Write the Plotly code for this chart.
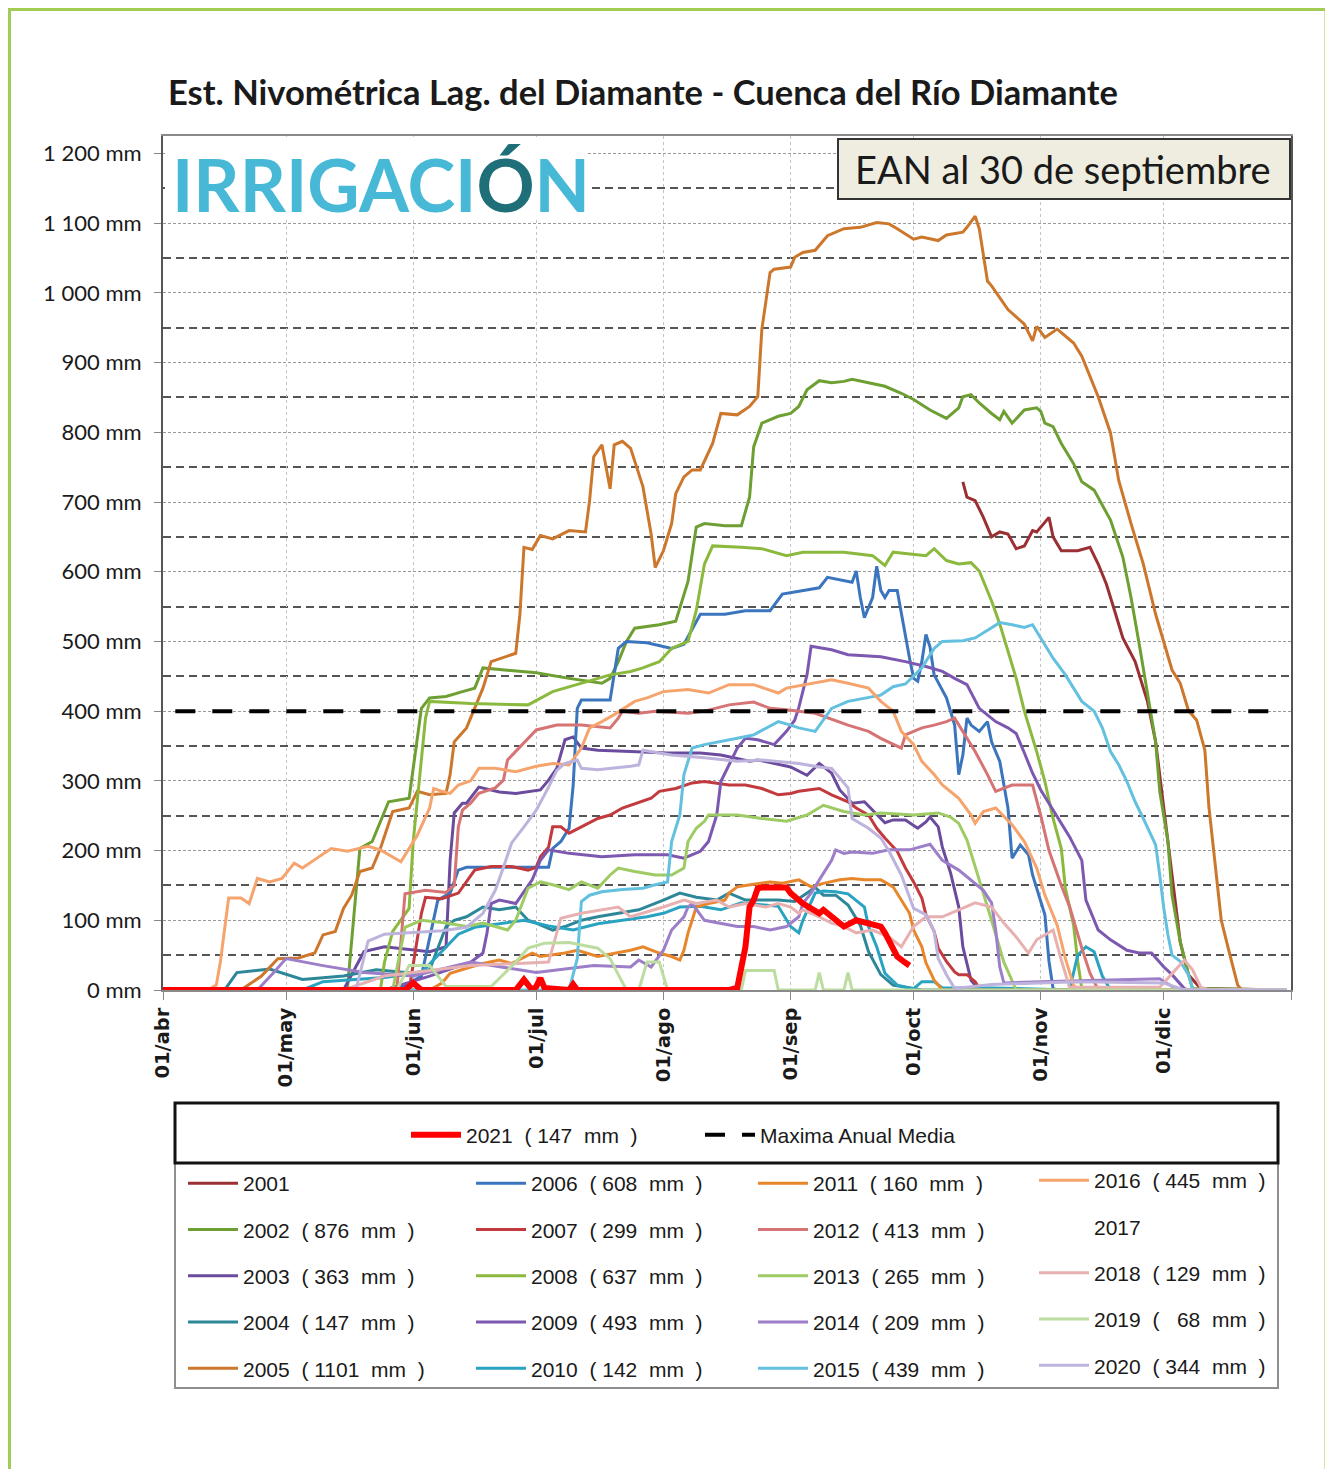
import plotly.graph_objects as go

# the page adds an 8px body margin, so the figure is drawn 8px smaller and offset
OFF = 8
W, H = 1333 - OFF, 1469 - OFF
ML, MR, MT, MB = 163 - OFF, 1333 - 1291, 136 - OFF, 1469 - 990


def px2x(px):
    return (px - 163) / (1291 - 163)


def py2y(py):
    return (990 - py) / (990 - 136)


# season dates (MM-DD) and snow water equivalent (mm), one list per year
s2001 = [("10-13", 729), ("10-14", 707), ("10-16", 702), ("10-18", 678), ("10-20", 650), ("10-22", 657),
         ("10-24", 654), ("10-26", 633), ("10-28", 637), ("10-30", 659), ("10-31", 657), ("11-03", 678),
         ("11-04", 650), ("11-06", 630), ("11-10", 630), ("11-13", 635), ("11-15", 611), ("11-17", 582),
         ("11-19", 544), ("11-21", 505), ("11-24", 471), ("11-25", 452), ("11-27", 414), ("11-29", 356),
         ("12-01", 261), ("12-03", 165), ("12-05", 69), ("12-07", 22), ("12-10", 2), ("12-31", 0)]
s2002 = [("04-01", 0), ("05-15", 0), ("05-16", 5), ("05-19", 203), ("05-22", 213), ("05-26", 270),
         ("05-31", 275), ("06-01", 318), ("06-03", 404), ("06-05", 419), ("06-09", 421), ("06-13", 428),
         ("06-16", 433), ("06-18", 462), ("07-01", 455), ("07-09", 447), ("07-17", 440), ("07-19", 447),
         ("07-21", 471), ("07-23", 500), ("07-25", 519), ("07-31", 524), ("08-04", 529), ("08-07", 586),
         ("08-09", 664), ("08-11", 669), ("08-16", 666), ("08-20", 666), ("08-22", 707), ("08-23", 779),
         ("08-25", 813), ("08-29", 823), ("09-01", 827), ("09-03", 837), ("09-05", 861), ("09-08", 874),
         ("09-11", 871), ("09-14", 873), ("09-16", 876), ("09-20", 871), ("09-24", 866), ("09-28", 856),
         ("10-01", 847), ("10-05", 832), ("10-09", 820), ("10-12", 835), ("10-13", 851), ("10-15", 854),
         ("10-17", 842), ("10-20", 827), ("10-22", 818), ("10-23", 830), ("10-25", 813), ("10-28", 832),
         ("10-31", 835), ("11-01", 830), ("11-02", 813), ("11-04", 808), ("11-06", 784), ("11-09", 755),
         ("11-11", 729), ("11-14", 717), ("11-18", 674), ("11-21", 621), ("11-23", 563), ("11-25", 496),
         ("11-27", 428), ("11-29", 356), ("11-30", 285), ("12-02", 213), ("12-03", 136), ("12-05", 69),
         ("12-07", 22), ("12-08", 2), ("12-31", 0)]
s2003 = [("04-01", 0), ("05-15", 0), ("05-20", 55), ("05-25", 62), ("06-05", 55), ("06-09", 62),
         ("06-10", 186), ("06-11", 254), ("06-13", 268), ("06-14", 268), ("06-17", 291), ("06-22", 284),
         ("06-26", 282), ("07-02", 287), ("07-04", 301), ("07-06", 318), ("07-08", 359), ("07-10", 363),
         ("07-12", 347), ("07-16", 344), ("07-24", 342), ("08-02", 340), ("08-10", 340), ("08-15", 337),
         ("08-22", 328), ("08-24", 330), ("09-01", 320), ("09-05", 308), ("09-08", 325), ("09-11", 311),
         ("09-13", 287), ("09-16", 268), ("09-19", 270), ("09-21", 258), ("09-24", 240), ("09-26", 244),
         ("09-29", 244), ("10-02", 232), ("10-04", 241), ("10-05", 248), ("10-07", 234), ("10-08", 205),
         ("10-10", 168), ("10-12", 119), ("10-13", 62), ("10-15", 14), ("10-17", 0), ("12-31", 0)]
s2004 = [("04-01", 0), ("04-16", 0), ("04-19", 25), ("04-27", 30), ("05-05", 15), ("05-15", 20),
         ("05-23", 29), ("06-01", 24), ("06-05", 29), ("06-09", 91), ("06-11", 100), ("06-14", 105),
         ("06-18", 119), ("06-22", 115), ("06-26", 119), ("06-29", 100), ("07-01", 96), ("07-05", 86),
         ("07-08", 91), ("07-12", 100), ("07-16", 105), ("07-21", 110), ("07-26", 115), ("08-01", 129),
         ("08-05", 139), ("08-09", 133), ("08-14", 129), ("08-17", 139), ("08-21", 129), ("08-25", 129),
         ("08-29", 129), ("09-02", 127), ("09-07", 147), ("09-09", 136), ("09-12", 136), ("09-15", 122),
         ("09-18", 93), ("09-20", 55), ("09-23", 22), ("09-26", 7), ("10-01", 2), ("10-03", 0), ("12-31", 0)]
s2005 = [("04-01", 0), ("04-20", 0), ("04-25", 20), ("04-29", 45), ("05-04", 46), ("05-08", 53),
         ("05-10", 79), ("05-13", 84), ("05-15", 117), ("05-17", 136), ("05-19", 170), ("05-22", 175),
         ("05-24", 203), ("05-27", 256), ("05-31", 261), ("06-02", 285), ("06-05", 280), ("06-09", 282),
         ("06-10", 309), ("06-11", 356), ("06-14", 376), ("06-16", 404), ("06-18", 433), ("06-20", 471),
         ("06-26", 483), ("06-27", 538), ("06-28", 635), ("06-30", 632), ("07-02", 652), ("07-05", 647),
         ("07-09", 659), ("07-13", 657), ("07-14", 702), ("07-15", 765), ("07-17", 782), ("07-19", 719),
         ("07-20", 782), ("07-22", 787), ("07-24", 777), ("07-27", 722), ("07-29", 654), ("07-30", 606),
         ("08-01", 630), ("08-03", 669), ("08-04", 712), ("08-06", 736), ("08-08", 746), ("08-10", 746),
         ("08-13", 784), ("08-15", 827), ("08-19", 825), ("08-22", 837), ("08-24", 851), ("08-25", 948),
         ("08-27", 1029), ("08-28", 1034), ("09-01", 1037), ("09-02", 1051), ("09-04", 1058), ("09-07", 1061),
         ("09-10", 1082), ("09-14", 1092), ("09-18", 1094), ("09-22", 1101), ("09-25", 1099), ("09-27", 1092),
         ("10-01", 1077), ("10-03", 1080), ("10-07", 1075), ("10-09", 1083), ("10-13", 1087), ("10-14", 1094),
         ("10-16", 1110), ("10-17", 1092), ("10-19", 1017), ("10-20", 1010), ("10-22", 993), ("10-24", 976),
         ("10-28", 955), ("10-30", 931), ("10-31", 952), ("11-02", 936), ("11-05", 948), ("11-09", 928),
         ("11-11", 909), ("11-15", 851), ("11-18", 799), ("11-20", 731), ("11-23", 669), ("11-26", 611),
         ("11-29", 539), ("12-01", 500), ("12-03", 459), ("12-05", 440), ("12-07", 401), ("12-09", 387),
         ("12-11", 344), ("12-12", 262), ("12-14", 158), ("12-15", 100), ("12-17", 53), ("12-19", 7),
         ("12-20", 0), ("12-31", 0)]
s2006 = [("04-01", 0), ("05-28", 0), ("06-03", 20), ("06-06", 100), ("06-07", 129), ("06-10", 139),
         ("06-12", 172), ("06-14", 176), ("07-04", 176), ("07-05", 203), ("07-07", 213), ("07-09", 232),
         ("07-10", 294), ("07-11", 404), ("07-12", 416), ("07-19", 416), ("07-20", 452), ("07-21", 490),
         ("07-23", 500), ("07-28", 498), ("08-03", 490), ("08-06", 496), ("08-10", 539), ("08-16", 539),
         ("08-21", 544), ("08-27", 544), ("08-30", 568), ("09-04", 573), ("09-08", 577), ("09-10", 592),
         ("09-16", 585), ("09-17", 601), ("09-18", 563), ("09-19", 534), ("09-21", 563), ("09-22", 608),
         ("09-23", 573), ("09-24", 563), ("09-25", 573), ("09-27", 573), ("09-28", 539), ("09-29", 505),
         ("09-30", 476), ("10-01", 447), ("10-02", 443), ("10-03", 471), ("10-04", 510), ("10-05", 492),
         ("10-06", 452), ("10-09", 419), ("10-11", 380), ("10-12", 309), ("10-13", 337), ("10-14", 390),
         ("10-15", 380), ("10-17", 371), ("10-19", 385), ("10-20", 356), ("10-22", 328), ("10-24", 261),
         ("10-25", 189), ("10-27", 208), ("10-29", 194), ("10-30", 165), ("11-02", 108), ("11-03", 41),
         ("11-04", 2), ("11-05", 0), ("12-31", 0)]
s2007 = [("04-01", 0), ("05-31", 0), ("06-03", 110), ("06-04", 133), ("06-08", 131), ("06-12", 139),
         ("06-16", 172), ("06-20", 177), ("06-25", 177), ("06-29", 172), ("07-01", 176), ("07-02", 191),
         ("07-04", 205), ("07-05", 234), ("07-07", 234), ("07-09", 225), ("07-12", 234), ("07-16", 246),
         ("07-19", 251), ("07-22", 261), ("07-29", 275), ("07-31", 285), ("08-04", 289), ("08-08", 297),
         ("08-11", 299), ("08-17", 294), ("08-21", 294), ("08-25", 289), ("08-29", 280), ("09-01", 282),
         ("09-03", 285), ("09-08", 289), ("09-11", 280), ("09-15", 270), ("09-17", 261), ("09-20", 251),
         ("09-22", 232), ("09-24", 218), ("09-27", 199), ("09-29", 175), ("10-01", 155), ("10-03", 132),
         ("10-04", 108), ("10-06", 84), ("10-07", 60), ("10-09", 41), ("10-11", 26), ("10-12", 22),
         ("10-14", 22), ("10-16", 12), ("10-17", 2), ("10-18", 0), ("12-31", 0)]
s2008 = [("04-01", 0), ("05-24", 0), ("05-25", 40), ("05-27", 84), ("05-31", 117), ("06-01", 213),
         ("06-04", 390), ("06-05", 414), ("06-15", 411), ("06-29", 409), ("07-05", 428), ("07-12", 440),
         ("07-19", 452), ("07-24", 457), ("07-27", 462), ("07-31", 471), ("08-03", 490), ("08-07", 500),
         ("08-09", 544), ("08-11", 611), ("08-13", 637), ("08-20", 635), ("08-25", 633), ("08-31", 623),
         ("09-04", 628), ("09-14", 628), ("09-21", 623), ("09-24", 609), ("09-26", 628), ("09-29", 626),
         ("10-04", 623), ("10-06", 633), ("10-09", 616), ("10-12", 611), ("10-15", 613), ("10-17", 601),
         ("10-20", 558), ("10-22", 525), ("10-24", 486), ("10-26", 447), ("10-28", 400), ("10-31", 342),
         ("11-02", 299), ("11-04", 246), ("11-06", 203), ("11-07", 146), ("11-09", 93), ("11-10", 41),
         ("11-11", 2), ("11-12", 0), ("12-31", 0)]
s2009 = [("04-01", 0), ("05-25", 0), ("06-05", 20), ("06-15", 40), ("06-18", 53), ("06-19", 82),
         ("06-20", 124), ("06-22", 129), ("06-26", 124), ("06-30", 158), ("07-02", 186), ("07-04", 201),
         ("07-09", 196), ("07-17", 191), ("07-25", 194), ("08-02", 194), ("08-06", 189), ("08-10", 199),
         ("08-12", 213), ("08-14", 251), ("08-15", 299), ("08-17", 323), ("08-19", 347), ("08-21", 361),
         ("08-24", 359), ("08-28", 352), ("08-31", 371), ("09-02", 387), ("09-03", 405), ("09-05", 452),
         ("09-06", 493), ("09-11", 488), ("09-15", 481), ("09-23", 478), ("09-29", 471), ("10-04", 464),
         ("10-08", 457), ("10-11", 447), ("10-14", 438), ("10-17", 404), ("10-21", 385), ("10-24", 376),
         ("10-26", 368), ("10-28", 340), ("10-30", 311), ("11-01", 287), ("11-03", 268), ("11-06", 239),
         ("11-08", 220), ("11-11", 186), ("11-12", 129), ("11-15", 86), ("11-18", 72), ("11-22", 57),
         ("11-25", 53), ("11-28", 53), ("12-01", 33), ("12-03", 22), ("12-06", 2), ("12-07", 0), ("12-31", 0)]
s2010 = [("04-01", 0), ("05-05", 0), ("05-10", 12), ("05-25", 18), ("06-03", 25), ("06-08", 55),
         ("06-12", 80), ("06-16", 90), ("06-22", 95), ("06-28", 100), ("07-04", 92), ("07-10", 86),
         ("07-16", 95), ("07-22", 100), ("07-28", 105), ("08-01", 110), ("08-05", 119), ("08-10", 120),
         ("08-15", 115), ("08-20", 125), ("08-25", 122), ("08-29", 120), ("09-01", 91), ("09-03", 82),
         ("09-04", 100), ("09-07", 139), ("09-09", 142), ("09-12", 141), ("09-15", 138), ("09-17", 129),
         ("09-19", 119), ("09-20", 91), ("09-22", 62), ("09-24", 24), ("09-27", 7), ("10-01", 2),
         ("10-03", 12), ("10-06", 12), ("10-08", 3), ("10-20", 3), ("11-08", 0), ("11-10", 50),
         ("11-12", 62), ("11-14", 55), ("11-16", 20), ("11-18", 0), ("12-31", 0)]
s2011 = [("04-01", 0), ("06-05", 0), ("06-08", 10), ("06-10", 24), ("06-15", 33), ("06-18", 38),
         ("06-22", 43), ("06-25", 38), ("06-30", 53), ("07-02", 48), ("07-08", 53), ("07-11", 57),
         ("07-16", 48), ("07-21", 53), ("07-24", 57), ("07-27", 62), ("07-31", 53), ("08-03", 48),
         ("08-05", 43), ("08-06", 57), ("08-07", 82), ("08-08", 100), ("08-09", 119), ("08-12", 124),
         ("08-16", 129), ("08-17", 139), ("08-19", 148), ("08-21", 150), ("08-24", 153), ("08-27", 155),
         ("08-30", 153), ("09-03", 158), ("09-06", 148), ("09-09", 153), ("09-13", 158), ("09-16", 160),
         ("09-19", 158), ("09-23", 158), ("09-26", 148), ("09-28", 129), ("09-30", 110), ("10-01", 86),
         ("10-03", 62), ("10-04", 39), ("10-06", 14), ("10-08", 0), ("12-31", 0)]
s2012 = [("04-01", 0), ("05-28", 0), ("05-30", 138), ("06-04", 143), ("06-09", 140), ("06-11", 150),
         ("06-12", 234), ("06-13", 258), ("06-15", 268), ("06-17", 282), ("06-21", 290), ("06-23", 301),
         ("06-24", 330), ("06-29", 361), ("07-01", 373), ("07-06", 380), ("07-12", 380), ("07-19", 376),
         ("07-21", 390), ("07-22", 400), ("07-26", 397), ("07-30", 400), ("08-07", 397), ("08-11", 400),
         ("08-17", 409), ("08-23", 413), ("08-27", 404), ("08-31", 402), ("09-07", 397), ("09-15", 380),
         ("09-20", 371), ("09-23", 361), ("09-28", 347), ("09-29", 366), ("10-03", 376), ("10-06", 380),
         ("10-09", 385), ("10-11", 390), ("10-13", 371), ("10-16", 342), ("10-19", 309), ("10-21", 285),
         ("10-25", 294), ("10-30", 294), ("11-01", 250), ("11-03", 200), ("11-06", 150), ("11-08", 120),
         ("11-11", 60), ("11-13", 24), ("11-15", 0), ("12-31", 0)]
s2013 = [("04-01", 0), ("05-27", 0), ("05-30", 90), ("06-03", 100), ("06-09", 96), ("06-14", 91),
         ("06-18", 96), ("06-22", 89), ("06-24", 86), ("06-26", 100), ("06-29", 146), ("07-02", 155),
         ("07-05", 151), ("07-09", 144), ("07-12", 155), ("07-16", 146), ("07-19", 165), ("07-21", 175),
         ("07-25", 170), ("07-30", 165), ("08-03", 165), ("08-06", 175), ("08-07", 213), ("08-09", 232),
         ("08-11", 242), ("08-12", 251), ("08-19", 251), ("08-25", 246), ("08-31", 242), ("09-05", 251),
         ("09-09", 265), ("09-14", 256), ("09-19", 251), ("09-23", 254), ("10-01", 251), ("10-07", 254),
         ("10-10", 248), ("10-12", 239), ("10-14", 215), ("10-16", 177), ("10-17", 158), ("10-20", 100),
         ("10-23", 40), ("10-26", 0), ("12-31", 0)]
s2014 = [("04-01", 0), ("04-24", 0), ("04-28", 25), ("05-01", 45), ("05-10", 35), ("05-20", 25),
         ("06-01", 20), ("06-15", 40), ("07-01", 25), ("07-15", 35), ("07-24", 33), ("07-26", 43),
         ("07-29", 33), ("08-01", 57), ("08-03", 86), ("08-06", 105), ("08-07", 119), ("08-08", 124),
         ("08-11", 100), ("08-15", 96), ("08-19", 91), ("08-23", 91), ("08-27", 86), ("08-31", 91),
         ("09-03", 105), ("09-04", 124), ("09-06", 139), ("09-08", 158), ("09-09", 167), ("09-11", 186),
         ("09-12", 201), ("09-14", 196), ("09-16", 198), ("09-21", 196), ("09-25", 201), ("09-30", 201),
         ("10-05", 209), ("10-08", 186), ("10-12", 172), ("10-15", 158), ("10-18", 143), ("10-20", 125),
         ("10-21", 86), ("10-22", 33), ("10-23", 10), ("11-01", 12), ("11-15", 14), ("11-30", 16),
         ("12-03", 5), ("12-05", 0), ("12-31", 0)]
s2015 = [("04-01", 0), ("07-09", 0), ("07-11", 45), ("07-12", 127), ("07-14", 136), ("07-17", 141),
         ("07-22", 144), ("07-27", 146), ("07-30", 151), ("08-02", 155), ("08-03", 213), ("08-05", 251),
         ("08-06", 309), ("08-08", 347), ("08-11", 352), ("08-15", 356), ("08-19", 361), ("08-23", 366),
         ("08-26", 376), ("08-29", 385), ("09-01", 380), ("09-03", 376), ("09-07", 371), ("09-11", 404),
         ("09-15", 414), ("09-20", 419), ("09-23", 423), ("09-26", 435), ("09-29", 439), ("10-03", 462),
         ("10-06", 490), ("10-08", 500), ("10-13", 501), ("10-16", 505), ("10-20", 520), ("10-22", 527),
         ("10-25", 524), ("10-28", 520), ("10-30", 524), ("11-01", 505), ("11-04", 476), ("11-07", 452),
         ("11-11", 414), ("11-14", 400), ("11-16", 376), ("11-18", 342), ("11-20", 323), ("11-22", 299),
         ("11-24", 270), ("11-26", 246), ("11-29", 208), ("11-30", 165), ("12-01", 117), ("12-02", 79),
         ("12-03", 50), ("12-05", 41), ("12-07", 22), ("12-08", 2), ("12-09", 0), ("12-31", 0)]
s2016 = [("04-01", 0), ("04-12", 0), ("04-14", 7), ("04-15", 41), ("04-17", 132), ("04-20", 132),
         ("04-22", 124), ("04-24", 160), ("04-27", 155), ("04-30", 160), ("05-03", 182), ("05-05", 175),
         ("05-08", 187), ("05-12", 203), ("05-16", 199), ("05-21", 206), ("05-24", 201), ("05-29", 184),
         ("05-31", 203), ("06-02", 222), ("06-05", 261), ("06-06", 289), ("06-08", 285), ("06-10", 282),
         ("06-12", 294), ("06-15", 300), ("06-17", 318), ("06-21", 318), ("06-26", 313), ("07-01", 321),
         ("07-05", 325), ("07-09", 323), ("07-12", 347), ("07-14", 376), ("07-17", 385), ("07-20", 395),
         ("07-25", 414), ("07-28", 419), ("08-01", 428), ("08-07", 431), ("08-12", 426), ("08-17", 438),
         ("08-23", 438), ("08-29", 426), ("08-31", 433), ("09-05", 438), ("09-11", 445), ("09-15", 440),
         ("09-20", 433), ("09-23", 414), ("09-26", 400), ("09-28", 371), ("10-01", 352), ("10-03", 328),
         ("10-06", 309), ("10-08", 294), ("10-12", 275), ("10-15", 251), ("10-16", 239), ("10-18", 256),
         ("10-21", 261), ("10-25", 237), ("10-28", 213), ("10-31", 175), ("11-02", 136), ("11-05", 93),
         ("11-07", 45), ("11-09", 7), ("11-10", 0), ("12-31", 0)]
s2017 = []
s2018 = [("04-01", 0), ("05-15", 0), ("05-25", 20), ("06-15", 35), ("07-04", 40), ("07-07", 103),
         ("07-12", 110), ("07-17", 115), ("07-21", 119), ("07-24", 105), ("08-01", 119), ("08-06", 129),
         ("08-09", 124), ("08-14", 129), ("08-17", 119), ("08-21", 124), ("08-26", 119), ("08-29", 124),
         ("09-01", 119), ("09-03", 110), ("09-04", 115), ("09-08", 105), ("09-11", 96), ("09-14", 91),
         ("09-17", 82), ("09-21", 86), ("09-25", 76), ("09-28", 62), ("10-01", 91), ("10-04", 105),
         ("10-08", 105), ("10-12", 115), ("10-16", 125), ("10-20", 119), ("10-23", 96), ("10-26", 76),
         ("10-29", 53), ("10-31", 72), ("11-03", 82), ("11-04", 86), ("11-06", 43), ("11-08", 4),
         ("11-30", 4), ("12-03", 24), ("12-06", 43), ("12-08", 29), ("12-10", 4), ("12-12", 0), ("12-31", 0)]
s2019 = [("04-01", 0), ("05-28", 0), ("05-31", 35), ("06-05", 35), ("06-09", 5), ("06-20", 5),
         ("06-26", 40), ("06-29", 60), ("07-03", 67), ("07-09", 68), ("07-16", 60), ("07-19", 45),
         ("07-21", 22), ("07-23", 0), ("07-26", 0), ("07-28", 40), ("07-31", 40), ("08-02", 0),
         ("08-20", 0), ("08-21", 28), ("08-28", 28), ("08-29", 0), ("09-07", 0), ("09-08", 25),
         ("09-09", 0), ("09-14", 0), ("09-15", 25), ("09-16", 0), ("12-31", 0)]
s2020 = [("04-01", 0), ("05-18", 0), ("05-21", 70), ("05-25", 80), ("06-08", 85), ("06-14", 90),
         ("06-18", 110), ("06-21", 143), ("06-23", 176), ("06-25", 211), ("06-28", 234), ("07-01", 258),
         ("07-04", 291), ("07-06", 315), ("07-08", 325), ("07-11", 330), ("07-12", 318), ("07-16", 316),
         ("07-24", 321), ("07-26", 323), ("07-27", 344), ("08-03", 337), ("08-11", 333), ("08-19", 328),
         ("08-25", 330), ("09-03", 325), ("09-08", 320), ("09-11", 318), ("09-13", 304), ("09-15", 290),
         ("09-16", 246), ("09-20", 232), ("09-23", 218), ("09-25", 199), ("09-28", 165), ("09-30", 132),
         ("10-01", 117), ("10-04", 108), ("10-06", 84), ("10-07", 45), ("10-09", 22), ("10-11", 2),
         ("10-20", 8), ("11-10", 12), ("12-01", 10), ("12-06", 0), ("12-31", 0)]
s2021 = [("04-01", 0), ("05-30", 0), ("06-01", 10), ("06-03", 0), ("06-26", 0), ("06-28", 15),
         ("06-30", 0), ("07-01", 5), ("07-02", 17), ("07-03", 3), ("07-09", 0), ("07-10", 8), ("07-11", 0),
         ("08-17", 0), ("08-19", 3), ("08-21", 62), ("08-22", 119), ("08-23", 129), ("08-24", 146),
         ("08-25", 147), ("08-31", 147), ("09-01", 139), ("09-04", 124), ("09-08", 110), ("09-09", 115),
         ("09-11", 105), ("09-14", 91), ("09-17", 100), ("09-20", 96), ("09-23", 91), ("09-24", 82),
         ("09-26", 57), ("09-27", 48), ("09-29", 39), ("09-30", 35)]
s_media = [("04-04", 400), ("12-30", 400)]

years = [2001, 2002, 2003, 2004, 2005, 2006, 2007, 2008, 2009, 2010,
         2011, 2012, 2013, 2014, 2015, 2016, 2017, 2018, 2019, 2020]
series = [s2001, s2002, s2003, s2004, s2005, s2006, s2007, s2008, s2009, s2010,
          s2011, s2012, s2013, s2014, s2015, s2016, s2017, s2018, s2019, s2020]
# EAN at 30 september shown in the legend
ean = [None, 876, 363, 147, 1101, 608, 299, 637, 493, 142,
       160, 413, 265, 209, 439, 445, None, 129, 68, 344]
colors = ["#9b3034", "#6e9f33", "#6b4b9e", "#2d8799", "#cc772c", "#3a75bd", "#c23a3d", "#8bb93d",
          "#7d58b0", "#29a3c2", "#e8862b", "#d67375", "#9fcb64", "#9c7ec9", "#63c0df", "#f6a46d",
          "rgba(0,0,0,0)", "#e8b1b1", "#bcdca0", "#bdb3dc"]

ean_2021 = 147

y_ticks = [0, 100, 200, 300, 400, 500, 600, 700, 800, 900, 1000, 1100, 1200]
y_labels = ["0 mm", "100 mm", "200 mm", "300 mm", "400 mm", "500 mm", "600 mm", "700 mm",
            "800 mm", "900 mm", "1 000 mm", "1 100 mm", "1 200 mm"]
x_ticks = ["2021-04-01", "2021-05-01", "2021-06-01", "2021-07-01", "2021-08-01",
           "2021-09-01", "2021-10-01", "2021-11-01", "2021-12-01", "2022-01-01"]
x_labels = ["01/abr", "01/may", "01/jun", "01/jul", "01/ago", "01/sep", "01/oct", "01/nov", "01/dic", ""]

NB = "\u00a0"


def label(year, val):
    if val is None:
        return str(year)
    v = str(val)
    if len(v) < 3:
        v = NB + NB + v
    return f"{year}{NB} ({NB}{v}{NB} mm{NB} )"


leg_font = dict(family="Liberation Sans, Arial, sans-serif", size=21, color="#1a1a1a")

fig = go.Figure()

for i, (yr, pts) in enumerate(zip(years, series)):
    col = i // 5
    xs = ["2021-" + d for d, _ in pts] or [None]
    ys = [v for _, v in pts] or [None]
    fig.add_trace(go.Scatter(
        x=xs, y=ys, mode="lines", name=label(yr, ean[i]),
        line=dict(color=colors[i], width=3), legendgroup="g" + str(yr),
        legend="legend" + str(col + 2), cliponaxis=False, hoverinfo="skip"))

fig.add_trace(go.Scatter(
    x=["2021-" + d for d, _ in s2021], y=[v for _, v in s2021], mode="lines",
    name=label(2021, ean_2021), line=dict(color="#ff0000", width=6),
    legend="legend", cliponaxis=False, hoverinfo="skip"))
fig.add_trace(go.Scatter(
    x=["2021-" + d for d, _ in s_media], y=[v for _, v in s_media], mode="lines",
    name="Maxima Anual Media", line=dict(color="#000000", width=4, dash="20px,17px"),
    legend="legend", cliponaxis=False, hoverinfo="skip"))

legends = {}
legends["legend"] = dict(x=px2x(406), y=py2y(1135), xanchor="left", yanchor="middle",
                         orientation="h", entrywidth=229, entrywidthmode="pixels", itemwidth=50,
                         bgcolor="rgba(0,0,0,0)", borderwidth=0, font=leg_font)
col_x = [183, 471, 753, 1034]
col_top = [1163, 1163, 1163, 1160]
for c in range(4):
    legends["legend" + str(c + 2)] = dict(
        x=px2x(col_x[c]), y=py2y(col_top[c]), xanchor="left", yanchor="top",
        orientation="v", itemwidth=50, tracegroupgap=16, traceorder="grouped",
        bgcolor="rgba(0,0,0,0)", borderwidth=0, font=leg_font)

shapes = [
    # outer frame (bottom edge falls outside the page)
    dict(type="rect", xref="paper", yref="paper", x0=px2x(9.5), x1=px2x(1326), y0=py2y(1480), y1=py2y(9.5),
         line=dict(color="#a2cd55", width=3), fillcolor="rgba(0,0,0,0)", layer="above"),
    # logo background
    dict(type="rect", xref="paper", yref="paper", x0=px2x(165), x1=px2x(588), y0=py2y(218), y1=py2y(137),
         line=dict(width=0), fillcolor="white", layer="above"),
    # EAN box
    dict(type="rect", xref="paper", yref="paper", x0=px2x(838), x1=px2x(1290), y0=py2y(199), y1=py2y(139),
         line=dict(color="#333333", width=2), fillcolor="#eeede0", layer="above"),
    # legend boxes
    dict(type="rect", xref="paper", yref="paper", x0=px2x(175), x1=px2x(1278), y0=py2y(1388), y1=py2y(1163),
         line=dict(color="#8f8f8f", width=2), fillcolor="rgba(0,0,0,0)", layer="above"),
    dict(type="rect", xref="paper", yref="paper", x0=px2x(175), x1=px2x(1278), y0=py2y(1163), y1=py2y(1103),
         line=dict(color="#111111", width=3), fillcolor="rgba(0,0,0,0)", layer="above"),
]

annotations = [
    dict(text="Est. Nivométrica Lag. del Diamante - Cuenca del Río Diamante", xref="paper", yref="paper",
         x=px2x(643), y=py2y(92), xanchor="center", yanchor="middle", showarrow=False,
         font=dict(family="Lato", size=34.5, color="#1a1a1a", weight="bold")),
    dict(text="IRRIGACI<span style='color:#1f6f79'>Ó</span>N", xref="paper", yref="paper",
         x=px2x(170), y=py2y(184), xanchor="left", yanchor="middle", showarrow=False,
         font=dict(family="Lato", size=72, color="#47b9d7", weight="bold")),
    dict(text="EAN al 30 de septiembre", xref="paper", yref="paper",
         x=px2x(1063), y=py2y(169), xanchor="center", yanchor="middle", showarrow=False,
         font=dict(family="Lato", size=38, color="#1a1a1a")),
]

fig.update_layout(
    width=W, height=H, margin=dict(l=ML, r=MR, t=MT, b=MB),
    paper_bgcolor="white", plot_bgcolor="white",
    shapes=shapes, annotations=annotations, hovermode=False,
    **legends,
)

fig.update_xaxes(
    type="date", range=["2021-04-01", "2022-01-01"], tickmode="array", tickvals=x_ticks, ticktext=x_labels,
    tickangle=-90, ticks="outside", ticklen=8, tickcolor="#888888",
    tickfont=dict(family="DejaVu Sans", size=19.5, color="#1a1a1a", weight="bold"),
    showgrid=True, gridcolor="#c4c4c4", griddash="3px,3px", gridwidth=1,
    showline=True, linecolor="#8a8a8a", linewidth=1.5, mirror=True, layer="below traces",
    zeroline=False,
)
fig.update_yaxes(
    range=[0, 1225], tickmode="array", tickvals=y_ticks, ticktext=y_labels,
    ticks="outside", ticklen=7, tickcolor="#888888", ticklabelstandoff=8,
    tickfont=dict(family="Lato", size=22, color="#1a1a1a"),
    showgrid=True, gridcolor="#9a9a9a", griddash="3px,2px", gridwidth=1.2,
    minor=dict(tickmode="array", tickvals=[50, 150, 250, 350, 450, 550, 650, 750, 850, 950, 1050, 1150],
               showgrid=True, gridcolor="#555555", griddash="8px,5px", gridwidth=1.8, ticks=""),
    showline=True, linecolor="#555555", linewidth=2, mirror=True, layer="below traces",
    zeroline=False,
)

fig.write_html("out.html")
